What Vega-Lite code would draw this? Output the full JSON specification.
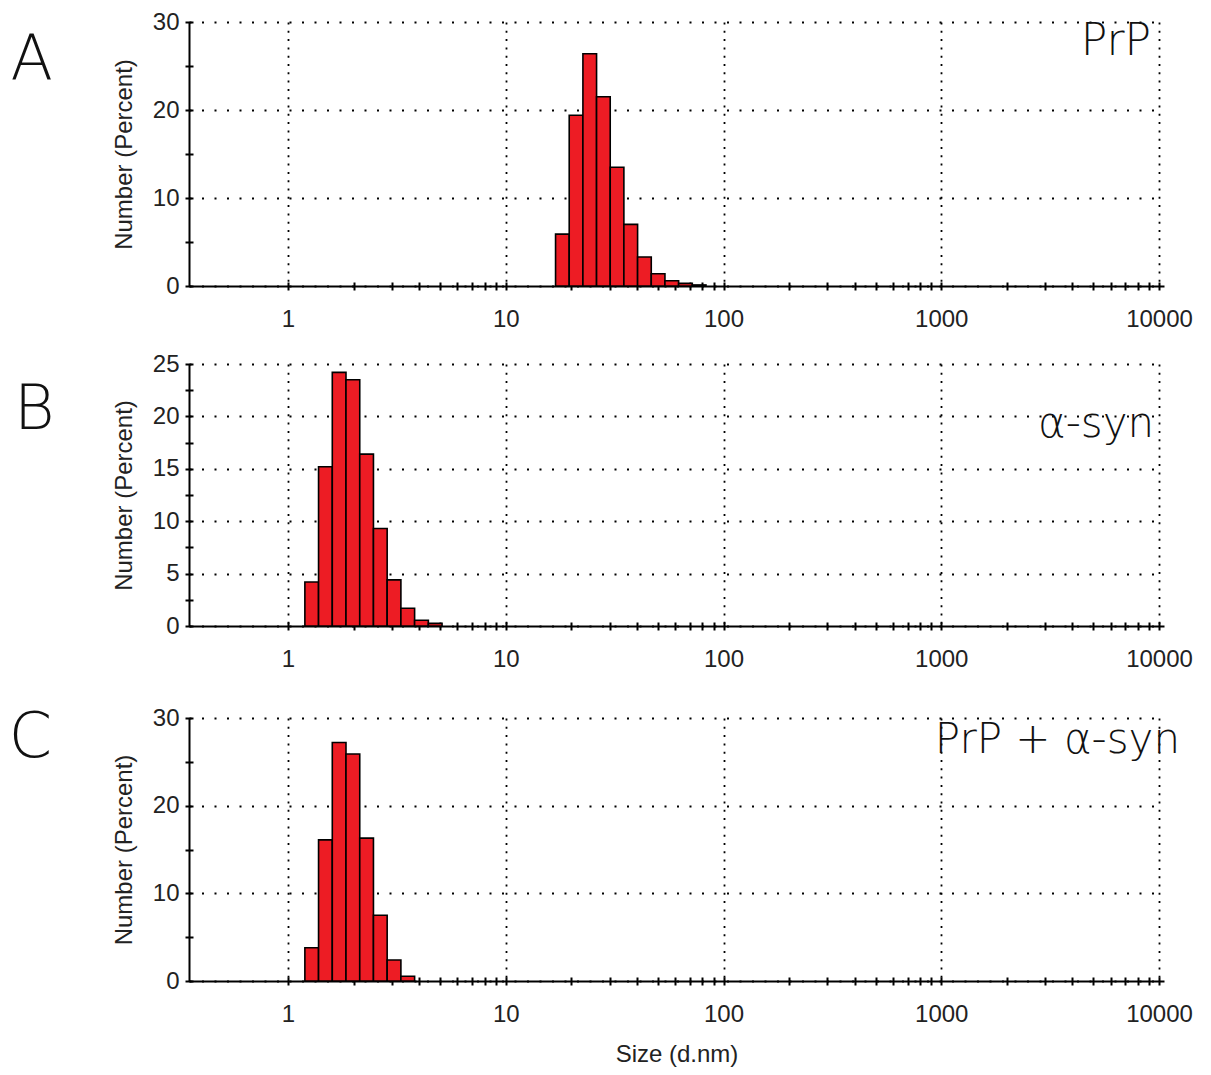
{
  "$schema": "https://vega.github.io/schema/vega-lite/v6.json",
  "background": "white",
  "padding": {"left": 8, "top": 10, "right": 5, "bottom": 5},
  "datasets": {
    "prp": [
      {"lo": 16.93, "hi": 19.56, "pct": 5.9},
      {"lo": 19.56, "hi": 22.61, "pct": 19.4},
      {"lo": 22.61, "hi": 26.12, "pct": 26.4},
      {"lo": 26.12, "hi": 30.18, "pct": 21.5},
      {"lo": 30.18, "hi": 34.87, "pct": 13.5},
      {"lo": 34.87, "hi": 40.31, "pct": 7.0},
      {"lo": 40.31, "hi": 46.58, "pct": 3.3},
      {"lo": 46.58, "hi": 53.83, "pct": 1.4},
      {"lo": 53.83, "hi": 62.2, "pct": 0.6},
      {"lo": 62.2, "hi": 71.88, "pct": 0.3},
      {"lo": 71.88, "hi": 83.07, "pct": 0.12}
    ],
    "asyn": [
      {"lo": 1.195, "hi": 1.381, "pct": 4.2},
      {"lo": 1.381, "hi": 1.597, "pct": 15.2},
      {"lo": 1.597, "hi": 1.846, "pct": 24.2},
      {"lo": 1.846, "hi": 2.135, "pct": 23.5},
      {"lo": 2.135, "hi": 2.468, "pct": 16.4},
      {"lo": 2.468, "hi": 2.853, "pct": 9.3},
      {"lo": 2.853, "hi": 3.299, "pct": 4.4},
      {"lo": 3.299, "hi": 3.814, "pct": 1.7},
      {"lo": 3.814, "hi": 4.41, "pct": 0.55},
      {"lo": 4.41, "hi": 5.098, "pct": 0.25}
    ],
    "mix": [
      {"lo": 1.195, "hi": 1.381, "pct": 3.8},
      {"lo": 1.381, "hi": 1.597, "pct": 16.1},
      {"lo": 1.597, "hi": 1.846, "pct": 27.2},
      {"lo": 1.846, "hi": 2.135, "pct": 25.9},
      {"lo": 2.135, "hi": 2.468, "pct": 16.3},
      {"lo": 2.468, "hi": 2.853, "pct": 7.5},
      {"lo": 2.853, "hi": 3.299, "pct": 2.4},
      {"lo": 3.299, "hi": 3.814, "pct": 0.55}
    ]
  },
  "spacing": 21,
  "vconcat": [
    {
      "width": 975, "height": 264,
      "title": {"text": "A", "orient": "left", "anchor": "end", "angle": 0, "align": "right", "baseline": "top", "dy": 20, "offset": 17, "fontSize": 62, "font": "DejaVu Sans", "fontWeight": 200, "color": "#111"},
      "layer": [
        {
          "data": {"name": "prp"},
          "mark": {"type": "bar", "orient": "vertical", "fill": "#ED1C24", "stroke": "black", "strokeWidth": 1.6},
          "encoding": {
            "x": {"field": "lo", "type": "quantitative", "scale": {"type": "log", "domain": [0.37, 10000], "nice": false},
                  "axis": {"values": [1, 10, 100, 1000, 10000], "format": "d", "grid": true, "gridDash": [2, 6.3], "gridColor": "black", "gridWidth": 1.8, "ticks": false, "labelPadding": 21, "labelFontSize": 24, "labelColor": "#222", "labelFlush": false, "labelOverlap": false, "domainColor": "black", "domainWidth": 2, "title": null}},
            "x2": {"field": "hi"},
            "y": {"field": "pct", "type": "quantitative", "stack": null, "scale": {"domain": [0, 30], "nice": false},
                  "axis": {"values": [0, 10, 20, 30], "grid": true, "gridDash": [2, 10.5], "gridColor": "black", "gridWidth": 1.8, "ticks": false, "labelPadding": 10, "labelFontSize": 24, "labelColor": "#222", "domainColor": "black", "domainWidth": 2, "title": "Number (Percent)", "titleFontSize": 24, "titleFontWeight": "normal", "titleColor": "#222", "titlePadding": 16}}
          }
        },
        {
          "data": {"values": [{"label": "PrP"}]},
          "mark": {"type": "text", "align": "right", "baseline": "alphabetic", "fontSize": 44, "font": "DejaVu Sans", "fontWeight": 200, "color": "#111"},
          "encoding": {
            "x": {"datum": 9200, "type": "quantitative",
                  "axis": {"orient": "bottom", "values": [1,2,3,4,5,6,7,8,9,10,20,30,40,50,60,70,80,90,100,200,300,400,500,600,700,800,900,1000,2000,3000,4000,5000,6000,7000,8000,9000,10000], "offset": -4, "tickSize": 8, "tickWidth": 2, "tickColor": "black", "domain": false, "labels": false, "grid": false, "title": null}},
            "y": {"datum": 26.2, "type": "quantitative",
                  "axis": {"orient": "left", "values": [0,5,10,15,20,25,30], "offset": -4, "tickSize": 8, "tickWidth": 2, "tickColor": "black", "domain": false, "labels": false, "grid": false, "title": null}},
            "text": {"field": "label"}
          }
        }
      ],
      "resolve": {"axis": {"x": "independent", "y": "independent"}}
    },
    {
      "spacing": 35,
      "vconcat": [
        {
          "width": 975, "height": 262,
          "title": {"text": "B", "orient": "left", "anchor": "end", "angle": 0, "align": "right", "baseline": "top", "dy": 28, "offset": 17, "fontSize": 62, "font": "DejaVu Sans", "fontWeight": 200, "color": "#111"},
          "layer": [
            {
              "data": {"name": "asyn"},
              "mark": {"type": "bar", "orient": "vertical", "fill": "#ED1C24", "stroke": "black", "strokeWidth": 1.6},
              "encoding": {
                "x": {"field": "lo", "type": "quantitative", "scale": {"type": "log", "domain": [0.37, 10000], "nice": false},
                      "axis": {"values": [1, 10, 100, 1000, 10000], "format": "d", "grid": true, "gridDash": [2, 6.3], "gridColor": "black", "gridWidth": 1.8, "ticks": false, "labelPadding": 21, "labelFontSize": 24, "labelColor": "#222", "labelFlush": false, "labelOverlap": false, "domainColor": "black", "domainWidth": 2, "title": null}},
                "x2": {"field": "hi"},
                "y": {"field": "pct", "type": "quantitative", "stack": null, "scale": {"domain": [0, 25], "nice": false},
                      "axis": {"values": [0, 5, 10, 15, 20, 25], "grid": true, "gridDash": [2, 10.5], "gridColor": "black", "gridWidth": 1.8, "ticks": false, "labelPadding": 10, "labelFontSize": 24, "labelColor": "#222", "domainColor": "black", "domainWidth": 2, "title": "Number (Percent)", "titleFontSize": 24, "titleFontWeight": "normal", "titleColor": "#222", "titlePadding": 16}}
              }
            },
            {
              "data": {"values": [{"label": "α-syn"}]},
              "mark": {"type": "text", "align": "right", "baseline": "alphabetic", "fontSize": 42, "font": "DejaVu Sans", "fontWeight": 200, "color": "#111"},
              "encoding": {
                "x": {"datum": 9500, "type": "quantitative",
                      "axis": {"orient": "bottom", "values": [1,2,3,4,5,6,7,8,9,10,20,30,40,50,60,70,80,90,100,200,300,400,500,600,700,800,900,1000,2000,3000,4000,5000,6000,7000,8000,9000,10000], "offset": -4, "tickSize": 8, "tickWidth": 2, "tickColor": "black", "domain": false, "labels": false, "grid": false, "title": null}},
                "y": {"datum": 18.06, "type": "quantitative",
                      "axis": {"orient": "left", "values": [0,2.5,5,7.5,10,12.5,15,17.5,20,22.5,25], "offset": -4, "tickSize": 8, "tickWidth": 2, "tickColor": "black", "domain": false, "labels": false, "grid": false, "title": null}},
                "text": {"field": "label"}
              }
            }
          ],
          "resolve": {"axis": {"x": "independent", "y": "independent"}}
        },
        {
          "width": 975, "height": 263,
          "title": {"text": "C", "orient": "left", "anchor": "end", "angle": 0, "align": "right", "baseline": "top", "dy": 2, "offset": 17, "fontSize": 62, "font": "DejaVu Sans", "fontWeight": 200, "color": "#111"},
          "layer": [
            {
              "data": {"name": "mix"},
              "mark": {"type": "bar", "orient": "vertical", "fill": "#ED1C24", "stroke": "black", "strokeWidth": 1.6},
              "encoding": {
                "x": {"field": "lo", "type": "quantitative", "scale": {"type": "log", "domain": [0.37, 10000], "nice": false},
                      "axis": {"values": [1, 10, 100, 1000, 10000], "format": "d", "grid": true, "gridDash": [2, 6.3], "gridColor": "black", "gridWidth": 1.8, "ticks": false, "labelPadding": 21, "labelFontSize": 24, "labelColor": "#222", "labelFlush": false, "labelOverlap": false, "domainColor": "black", "domainWidth": 2, "title": "Size (d.nm)", "titleFontSize": 24, "titleFontWeight": "normal", "titleColor": "#222", "titlePadding": 16}},
                "x2": {"field": "hi"},
                "y": {"field": "pct", "type": "quantitative", "stack": null, "scale": {"domain": [0, 30], "nice": false},
                      "axis": {"values": [0, 10, 20, 30], "grid": true, "gridDash": [2, 10.5], "gridColor": "black", "gridWidth": 1.8, "ticks": false, "labelPadding": 10, "labelFontSize": 24, "labelColor": "#222", "domainColor": "black", "domainWidth": 2, "title": "Number (Percent)", "titleFontSize": 24, "titleFontWeight": "normal", "titleColor": "#222", "titlePadding": 16}}
              }
            },
            {
              "data": {"values": [{"label": "PrP + α-syn"}]},
              "mark": {"type": "text", "align": "right", "baseline": "alphabetic", "fontSize": 42, "font": "DejaVu Sans", "fontWeight": 200, "color": "#111"},
              "encoding": {
                "x": {"datum": 12500, "type": "quantitative",
                      "axis": {"orient": "bottom", "values": [1,2,3,4,5,6,7,8,9,10,20,30,40,50,60,70,80,90,100,200,300,400,500,600,700,800,900,1000,2000,3000,4000,5000,6000,7000,8000,9000,10000], "offset": -4, "tickSize": 8, "tickWidth": 2, "tickColor": "black", "domain": false, "labels": false, "grid": false, "title": null}},
                "y": {"datum": 26.0, "type": "quantitative",
                      "axis": {"orient": "left", "values": [0,5,10,15,20,25,30], "offset": -4, "tickSize": 8, "tickWidth": 2, "tickColor": "black", "domain": false, "labels": false, "grid": false, "title": null}},
                "text": {"field": "label"}
              }
            }
          ],
          "resolve": {"axis": {"x": "independent", "y": "independent"}}
        }
      ]
    }
  ],
  "config": {
    "view": {"stroke": null},
    "axis": {"labelFont": "Liberation Sans", "titleFont": "Liberation Sans"}
  }
}
